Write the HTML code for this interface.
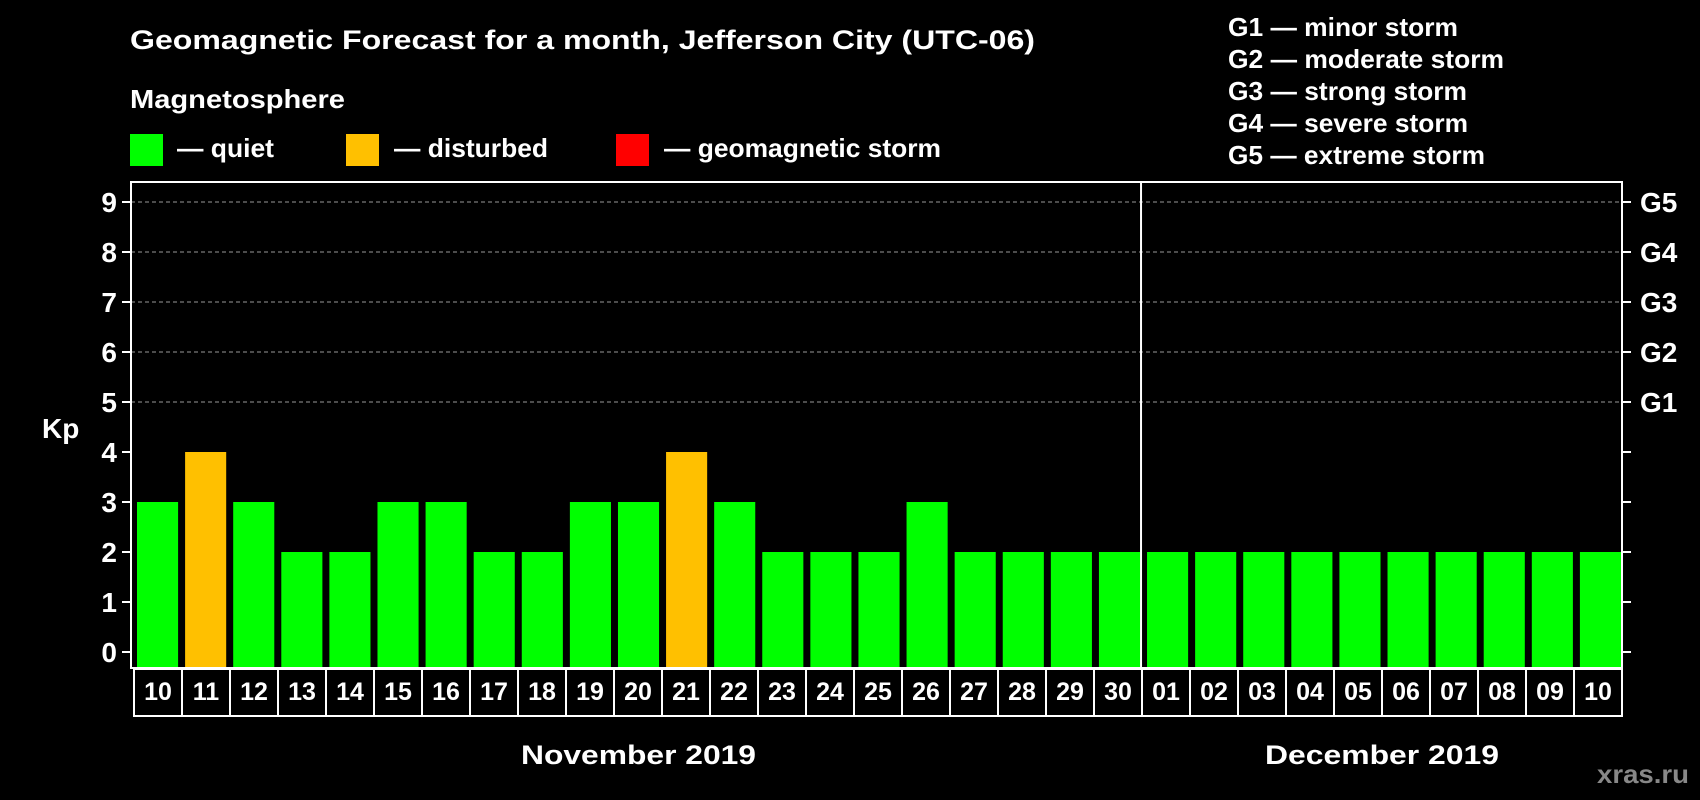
<!DOCTYPE html>
<html><head><meta charset="utf-8"><style>
html,body{margin:0;padding:0;background:#000;}
svg{display:block;font-family:"Liberation Sans",Arial,sans-serif;font-weight:bold;}
</style></head><body>
<svg id="chart" width="1700" height="800" viewBox="0 0 1700 800">
<rect x="0" y="0" width="1700" height="800" fill="#000"/>
<text x="130" y="49" font-size="27" fill="#fff" textLength="905" lengthAdjust="spacingAndGlyphs">Geomagnetic Forecast for a month, Jefferson City (UTC-06)</text>
<text x="130" y="108" font-size="26" fill="#fff" textLength="215" lengthAdjust="spacingAndGlyphs">Magnetosphere</text>
<g>
<rect x="130" y="134" width="33" height="32" fill="#00ff00"/>
<text x="177" y="157" font-size="26" fill="#fff" textLength="97" lengthAdjust="spacingAndGlyphs">— quiet</text></g>
<g>
<rect x="346" y="134" width="33" height="32" fill="#ffc000"/>
<text x="394" y="157" font-size="26" fill="#fff" textLength="154" lengthAdjust="spacingAndGlyphs">— disturbed</text></g>
<g>
<rect x="616" y="134" width="33" height="32" fill="#ff0000"/>
<text x="664" y="157" font-size="26" fill="#fff" textLength="277" lengthAdjust="spacingAndGlyphs">— geomagnetic storm</text></g>
<g font-size="26" fill="#fff" lengthAdjust="spacingAndGlyphs">
<text x="1228" y="36" textLength="230" lengthAdjust="spacingAndGlyphs">G1 — minor storm</text>
<text x="1228" y="68" textLength="276" lengthAdjust="spacingAndGlyphs">G2 — moderate storm</text>
<text x="1228" y="100" textLength="239" lengthAdjust="spacingAndGlyphs">G3 — strong storm</text>
<text x="1228" y="132" textLength="240" lengthAdjust="spacingAndGlyphs">G4 — severe storm</text>
<text x="1228" y="164" textLength="257" lengthAdjust="spacingAndGlyphs">G5 — extreme storm</text>
</g>
<text x="42" y="438" font-size="28" fill="#fff">Kp</text>
<g id="grid"></g>
<g id="bars"></g>
<g id="axes"></g>
<text x="521" y="764" font-size="27" fill="#fff" textLength="235" lengthAdjust="spacingAndGlyphs">November 2019</text>
<text x="1265" y="764" font-size="27" fill="#fff" textLength="234" lengthAdjust="spacingAndGlyphs">December 2019</text>
<text x="1597" y="783" font-size="26" fill="#888" textLength="92" lengthAdjust="spacingAndGlyphs">xras.ru</text>
</svg>
<script>
const novDays = ["10","11","12","13","14","15","16","17","18","19","20","21","22","23","24","25","26","27","28","29","30"];
const novKp = [3,4,3,2,2,3,3,2,2,3,3,4,3,2,2,2,3,2,2,2,2];
const decDays = ["01","02","03","04","05","06","07","08","09","10"];
const decKp = [2,2,2,2,2,2,2,2,2,2];
const yTicks = [0,1,2,3,4,5,6,7,8,9];
const gLabels = ["G1","G2","G3","G4","G5"];

const NS="http://www.w3.org/2000/svg";
const L=131, R=1622, T=182, B=668;
const y0=652, yUnit=50;
const CELL0=134, CELLT=669, CELLB=716;
function yS(v){return y0 - v*yUnit;}
function mk(tag, attrs, parent){const e=document.createElementNS(NS,tag);for(const k in attrs)e.setAttribute(k,attrs[k]);parent.appendChild(e);return e;}
function color(v){return v>=5?"#ff0000":(v>=4?"#ffc000":"#00ff00");}
const grid=document.getElementById('grid'), bars=document.getElementById('bars'), axes=document.getElementById('axes');

yTicks.forEach(v=>{
  const y=yS(v);
  if(v>=5){const g=mk('line',{x1:L,x2:R,y1:y,y2:y,stroke:'#999','stroke-width':1,'stroke-dasharray':'4 3'},grid);
    
    }
  const t=mk('line',{x1:L-9,x2:L,y1:y,y2:y,stroke:'#fff','stroke-width':2},axes);
  
  
  const t2=mk('line',{x1:R,x2:R+9,y1:y,y2:y,stroke:'#fff','stroke-width':2},axes);
  
  
  const lb=mk('text',{x:117,y:y+10,'font-size':28,fill:'#fff','text-anchor':'end'},axes);
  lb.textContent=v;
  
  
});
gLabels.forEach((g,i)=>{
  const lb=mk('text',{x:1640,y:yS(5+i)+10,'font-size':28,fill:'#fff'},axes);
  lb.textContent=g;
  
  
});

const allDays = novDays.concat(decDays);
const allKp = novKp.concat(decKp);
const sw=(R-L)/allDays.length;
const cw=(R-CELL0)/allDays.length;
allDays.forEach((d,i)=>{
  const v=allKp[i], sx=L+i*sw;
  const b=mk('rect',{x:sx+6,y:yS(v),width:sw-7,height:B-1-yS(v),fill:color(v)},bars);
  
  
  const cx=CELL0+i*cw;
  const c=mk('rect',{x:cx,y:CELLT,width:cw,height:CELLB-CELLT,fill:'none',stroke:'#fff','stroke-width':2},axes);
  
  
  const t=mk('text',{x:cx+cw/2,y:700,'font-size':25,fill:'#fff','text-anchor':'middle'},axes);
  t.textContent=d;
  
  
});
const SEP=L+novDays.length*sw;

const frame=mk('rect',{x:L,y:T,width:R-L,height:B-T,fill:'none',stroke:'#fff','stroke-width':2},axes);


const sep=mk('line',{x1:SEP,x2:SEP,y1:T,y2:B,stroke:'#fff','stroke-width':2},axes);


</script>
</body></html>
